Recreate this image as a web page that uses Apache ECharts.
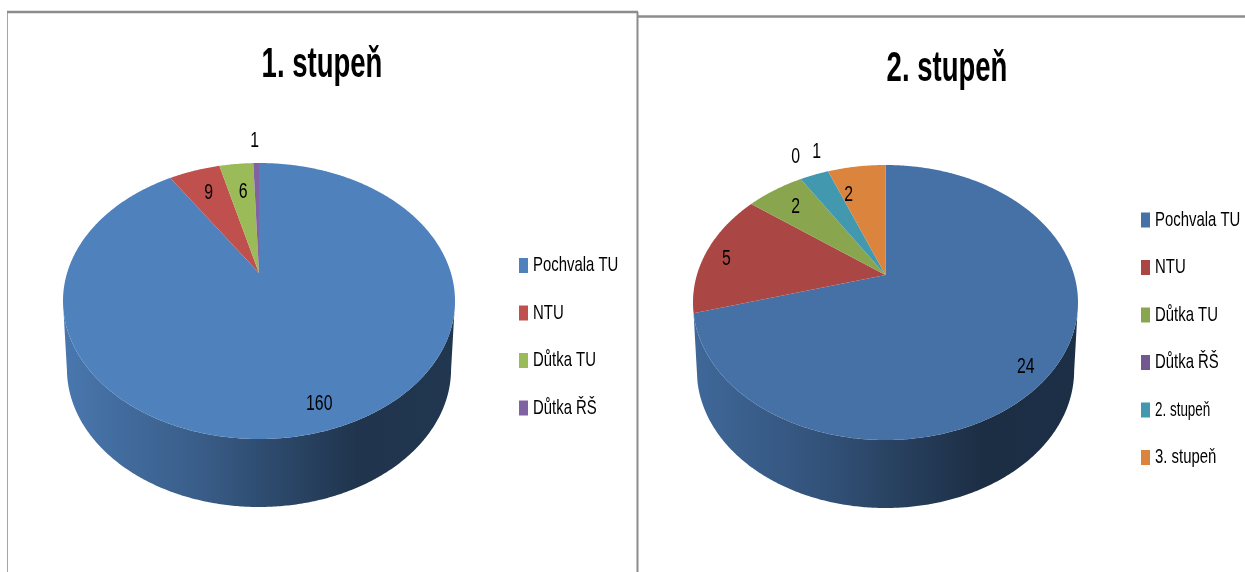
<!DOCTYPE html>
<html>
<head>
<meta charset="utf-8">
<style>html,body{margin:0;padding:0;background:#fff}#c{width:1245px;height:572px}</style>
<script src="https://cdn.jsdelivr.net/npm/echarts@6/dist/echarts.min.js"></script>
</head>
<body>
<div id="c"></div>
<script>
// ---- data ----
const titles = ['1. stupeň', '2. stupeň'];
const categories1 = ['Pochvala TU', 'NTU', 'Důtka TU', 'Důtka ŘŠ'];
const values1 = [160, 9, 6, 1];
const categories2 = ['Pochvala TU', 'NTU', 'Důtka TU', 'Důtka ŘŠ', '2. stupeň', '3. stupeň'];
const values2 = [24, 5, 2, 0, 1, 2];
const colors1 = ['#4f81bd', '#c0504d', '#9bbb59', '#8064a2'];
const colors2 = ['#4571a6', '#aa4644', '#89a54e', '#71588f', '#4198af', '#db843d'];

// ---- layout of the two perspective pies (styling, not data) ----
const FONT = '"Liberation Sans", sans-serif';
const layout1 = { cx: 259, apexY: 273, topY: 163, bottomY: 439, halfW: 196, depth: 68,
  nudges: [[9, 11], [3, 4.5], [3, 9], [-2, -41]] };
const layout2 = { cx: 885.5, apexY: 275, topY: 165, bottomY: 440, halfW: 192.5, depth: 68,
  nudges: [[7, 22], [-15, 3], [1, 2], [-20, -39], [-10, -40], [-13, 10]] };

function projector(L) {
  const up = L.apexY - L.topY, down = L.bottomY - L.apexY;
  const k = (down - up) / (down + up);
  const b = up * (1 + k);
  const a = L.halfW * Math.sqrt(1 - k * k);
  return function (deg, f) {
    const t = deg * Math.PI / 180, X = Math.sin(t) * f, Y = -Math.cos(t) * f;
    const w = 1 - k * Y;
    return [L.cx + a * X / w, L.apexY + b * Y / w];
  };
}

function shade(hex, f) {
  const n = parseInt(hex.slice(1), 16);
  const c = [n >> 16, (n >> 8) & 255, n & 255].map(v => Math.round(v * f));
  return 'rgb(' + c.join(',') + ')';
}

function buildSeries(cats, vals, cols, L) {
  const total = vals.reduce((s, v) => s + v, 0);
  const P = projector(L);
  const midY = (L.topY + L.bottomY) / 2;
  let acc = 0;
  return cats.map((name, i) => {
    const before = acc;
    acc += vals[i];
    const color = cols[i];
    return {
      type: 'custom', name, coordinateSystem: 'none',
      itemStyle: { color }, animation: false, silent: true,
      data: [[vals[i]]],
      renderItem: function (params, api) {
        const v = api.value(0);
        const a0 = before / total * 360, a1 = a0 + v / total * 360;
        const children = [];
        if (v > 0) {
          const n = Math.max(2, Math.ceil((a1 - a0) * 2));
          const arc = [];
          for (let j = 0; j <= n; j++) arc.push(P(a0 + (a1 - a0) * j / n, 1));
          const front = arc.filter(p => p[1] >= midY);
          if (front.length > 1 && i === 0) {
            const low = front.slice().reverse().map(p => [L.cx + (p[0] - L.cx) * 0.98, p[1] + L.depth]);
            children.push({
              type: 'polygon', shape: { points: front.concat(low) },
              style: {
                fill: new echarts.graphic.LinearGradient(L.cx - L.halfW, 0, L.cx + L.halfW, 0, [
                  { offset: 0, color: shade(color, 0.92) },
                  { offset: 0.35, color: shade(color, 0.72) },
                  { offset: 0.55, color: shade(color, 0.56) },
                  { offset: 0.75, color: shade(color, 0.41) },
                  { offset: 1, color: shade(color, 0.42) }
                ], true)
              }
            });
          }
          children.push({
            type: 'polygon', shape: { points: [[L.cx, L.apexY]].concat(arc) },
            style: { fill: color }
          });
        }
        const m = P((a0 + a1) / 2, 0.8), nudge = L.nudges[i];
        children.push({
          type: 'text', z2: 10, scaleX: 0.72,
          x: m[0] + nudge[0], y: m[1] + nudge[1],
          style: { text: String(v), fill: '#000', font: '22px ' + FONT, align: 'center', verticalAlign: 'middle' }
        });
        return { type: 'group', children };
      }
    };
  });
}

function legendData(cats, cols) {
  return cats.map((name, i) => ({ name, itemStyle: { color: cols[i] } }));
}
function frame(x1, y1, x2, y2, w, c) {
  return { type: 'line', shape: { x1, y1, x2, y2 }, style: { stroke: c, lineWidth: w } };
}

const legendBase = {
  orient: 'vertical', icon: 'rect', itemWidth: 9, itemHeight: 15, selectedMode: false,
  itemGap: 26.5, padding: 0,
  textStyle: { fontFamily: FONT, fontSize: 21, color: '#000' }
};
const titleStyle = { fontFamily: FONT, fontSize: 43, fontWeight: 'bold', color: '#000' };

const option = {
  backgroundColor: '#fff',
  animation: false,
  title: [
    { text: titles[0], left: 322, top: 44, textAlign: 'center', padding: 0, textStyle: titleStyle },
    { text: titles[1], left: 947, top: 48, textAlign: 'center', padding: 0, textStyle: titleStyle }
  ],
  legend: [
    Object.assign({ left: 519, top: 255, data: legendData(categories1, colors1) }, legendBase),
    Object.assign({ left: 1141, top: 209.5, data: legendData(categories2, colors2) }, legendBase)
  ],
  graphic: [
    frame(7.5, 12, 7.5, 572, 1, '#a6a6a6'),
    frame(7, 12, 638, 12, 2.5, '#8c8c8c'),
    frame(637.5, 12, 637.5, 572, 2, '#8c8c8c'),
    frame(638, 16.5, 1245, 16.5, 2.5, '#8c8c8c')
  ],
  series: buildSeries(categories1, values1, colors1, layout1)
    .concat(buildSeries(categories2, values2, colors2, layout2))
};
const chart = echarts.init(document.getElementById('c'), null, { renderer: 'canvas' });
chart.setOption(option);

// The original uses a narrow face that is not installed: condense the legend and title text.
const squeeze = {};
categories1.concat(categories2).forEach(n => { squeeze[n] = 0.71; });
titles.forEach(n => { squeeze[n] = 0.64; });
chart.getZr().storage.getRoots().forEach(function walk(el) {
  if (el.isGroup) { el.eachChild(walk); return; }
  const s = el.style && squeeze[el.style.text];
  if (s && !el.parent?.style?.text) {
    el.originX = el.style.x || 0;
    el.scaleX = s;
    el.markRedraw();
  }
});
chart.getZr().refreshImmediately();
</script>
</body>
</html>
